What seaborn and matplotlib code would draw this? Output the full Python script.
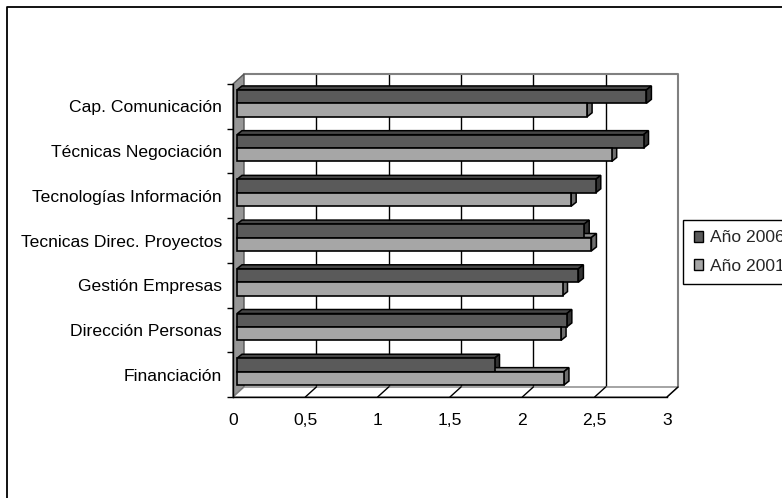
import numpy as np
import pandas as pd
import matplotlib
matplotlib.use("Agg")
import matplotlib.pyplot as plt
import seaborn as sns
from matplotlib.transforms import ScaledTranslation, IdentityTransform
from matplotlib.patches import Polygon, Rectangle
from matplotlib.lines import Line2D

# --- datos ---
categorias = ["Cap. Comunicación", "Técnicas Negociación", "Tecnologías Información",
              "Tecnicas Direc. Proyectos", "Gestión Empresas", "Dirección Personas",
              "Financiación"]
anio_2006 = [2.83, 2.81, 2.48, 2.40, 2.36, 2.28, 1.78]
anio_2001 = [2.42, 2.59, 2.31, 2.45, 2.25, 2.24, 2.26]
series = ["Año 2006", "Año 2001"]
x_ticks = [0, 0.5, 1, 1.5, 2, 2.5, 3]
x_labels = ["0", "0,5", "1", "1,5", "2", "2,5", "3"]

df = pd.DataFrame({
    "categoria": categorias * 2,
    "valor": anio_2006 + anio_2001,
    "serie": [series[0]] * len(categorias) + [series[1]] * len(categorias),
})

colores = {"Año 2006": "#5a5a5a", "Año 2001": "#a6a6a6"}
lados = {"Año 2006": ("#474747", "#333333"), "Año 2001": ("#8c8c8c", "#6e6e6e")}

sns.set_theme(style="white")
plt.rcParams["font.family"] = ["Liberation Sans", "DejaVu Sans"]
FS = 12.6

W, H = 782, 498
fig = plt.figure(figsize=(W / 100, H / 100), dpi=100)
fig.patch.set_facecolor("white")
ax = fig.add_axes([233 / W, 1 - 397 / H, (667 - 233) / W, (397 - 84) / H])
ax.set_facecolor("none")

sns.barplot(data=df, x="valor", y="categoria", hue="serie", palette=colores,
            orient="h", width=0.6, saturation=1, edgecolor="black", linewidth=1.2,
            legend=False, ax=ax)
ax.set_xlim(0, 3)
ax.set_ylim(len(categorias) - 0.5, -0.5)
ax.set_xlabel("")
ax.set_ylabel("")


def shift(dx, dy):
    # desplazamiento en pixeles (profundidad del grafico 3D)
    return ax.transData + ScaledTranslation(dx / 100, dy / 100, fig.dpi_scale_trans)


back = (11, 10)
bar_off = (4, 3)
bar_depth = (5, 4)
y_lo, y_hi = len(categorias) - 0.5, -0.5

# pared izquierda
pts = [shift(0, 0).transform((0, y_lo)), shift(0, 0).transform((0, y_hi)),
       shift(*back).transform((0, y_hi)), shift(*back).transform((0, y_lo))]
ax.add_patch(Polygon(pts, closed=True, facecolor="#969696", edgecolor="#555555",
                     lw=1, transform=IdentityTransform(), clip_on=False, zorder=0.5))

# suelo
pts = [shift(0, 0).transform((0, y_lo)), shift(0, 0).transform((3, y_lo)),
       shift(*back).transform((3, y_lo)), shift(*back).transform((0, y_lo))]
ax.add_patch(Polygon(pts, closed=True, facecolor="white", edgecolor="#808080",
                     lw=1, transform=IdentityTransform(), clip_on=False, zorder=0.6))
for xv in x_ticks[1:]:
    a = shift(0, 0).transform((xv, y_lo))
    b = shift(*back).transform((xv, y_lo))
    ax.add_line(Line2D([a[0], b[0]], [a[1], b[1]], color="black", lw=1,
                       transform=IdentityTransform(), clip_on=False, zorder=0.7))

# rejilla del fondo
for xv in x_ticks[1:-1]:
    ax.plot([xv, xv], [y_lo, y_hi], color="black", lw=1, transform=shift(*back),
            clip_on=False, zorder=0.4)
ax.plot([0, 3, 3], [y_hi, y_hi, y_lo], color="#808080", lw=1.5, transform=shift(*back),
        clip_on=False, zorder=0.4)

# barras con caras laterales
n = len(categorias)
for i, p in enumerate(ax.patches[:2 * n]):
    serie = series[i // n]
    tr = shift(*bar_off)
    p.set_transform(tr)
    p.set_clip_on(False)
    x0, y0, w, h = p.get_x(), p.get_y(), p.get_width(), p.get_height()
    c = tr.transform([(x0, y0), (x0 + w, y0 + h)])
    xl, xr = c[:, 0].min(), c[:, 0].max()
    yb, yt = c[:, 1].min(), c[:, 1].max()
    dx, dy = bar_depth
    top = [(xl, yt), (xr, yt), (xr + dx, yt + dy), (xl + dx, yt + dy)]
    right = [(xr, yb), (xr, yt), (xr + dx, yt + dy), (xr + dx, yb + dy)]
    z = 2 if serie == series[0] else 3
    for poly, col in ((top, lados[serie][0]), (right, lados[serie][1])):
        ax.add_patch(Polygon(poly, closed=True, facecolor=col, edgecolor="black",
                             lw=1.1, transform=IdentityTransform(), clip_on=False,
                             zorder=z))
    p.set_zorder(4)

# ejes
for s in ["top", "right"]:
    ax.spines[s].set_visible(False)
for s in ["left", "bottom"]:
    ax.spines[s].set_color("black")
    ax.spines[s].set_linewidth(1)
    ax.spines[s].set_zorder(5)

ax.set_xticks(x_ticks)
ax.set_xticklabels(x_labels, fontsize=FS)
ax.set_xticks([0], minor=True)
ax.set_yticks(range(n))
ax.set_yticklabels(categorias, fontsize=FS)
ax.set_yticks(np.arange(-0.5, n, 1), minor=True)
ax.tick_params(axis="x", which="major", length=0, pad=11.5, colors="black")
ax.tick_params(axis="x", which="minor", length=4.3, width=1, color="black",
               direction="out", bottom=True)
ax.tick_params(axis="y", which="major", length=0, pad=7.9, colors="black")
ax.tick_params(axis="y", which="minor", length=4.3, width=1, color="black",
               direction="out", left=True)

# leyenda
handles = [Rectangle((0, 0), 1, 1, facecolor=colores[s], edgecolor="black", lw=1)
           for s in series]
leg = ax.legend(handles, series, loc="upper left", bbox_to_anchor=(683 / W, 1 - 220 / H),
                bbox_transform=fig.transFigure, frameon=True, fancybox=False,
                framealpha=1, edgecolor="black", fontsize=FS, borderpad=0.6,
                handlelength=0.55, handleheight=0.55, handletextpad=0.4,
                labelspacing=0.75, borderaxespad=0)
leg.get_frame().set_linewidth(1)

# borde del area del grafico
fig.add_artist(Line2D([7 / W, 7 / W, 1.01], [-0.01, 1 - 7 / H, 1 - 7 / H],
                      transform=fig.transFigure, color="black", lw=1.3))

fig.savefig("out.png", dpi=100)
